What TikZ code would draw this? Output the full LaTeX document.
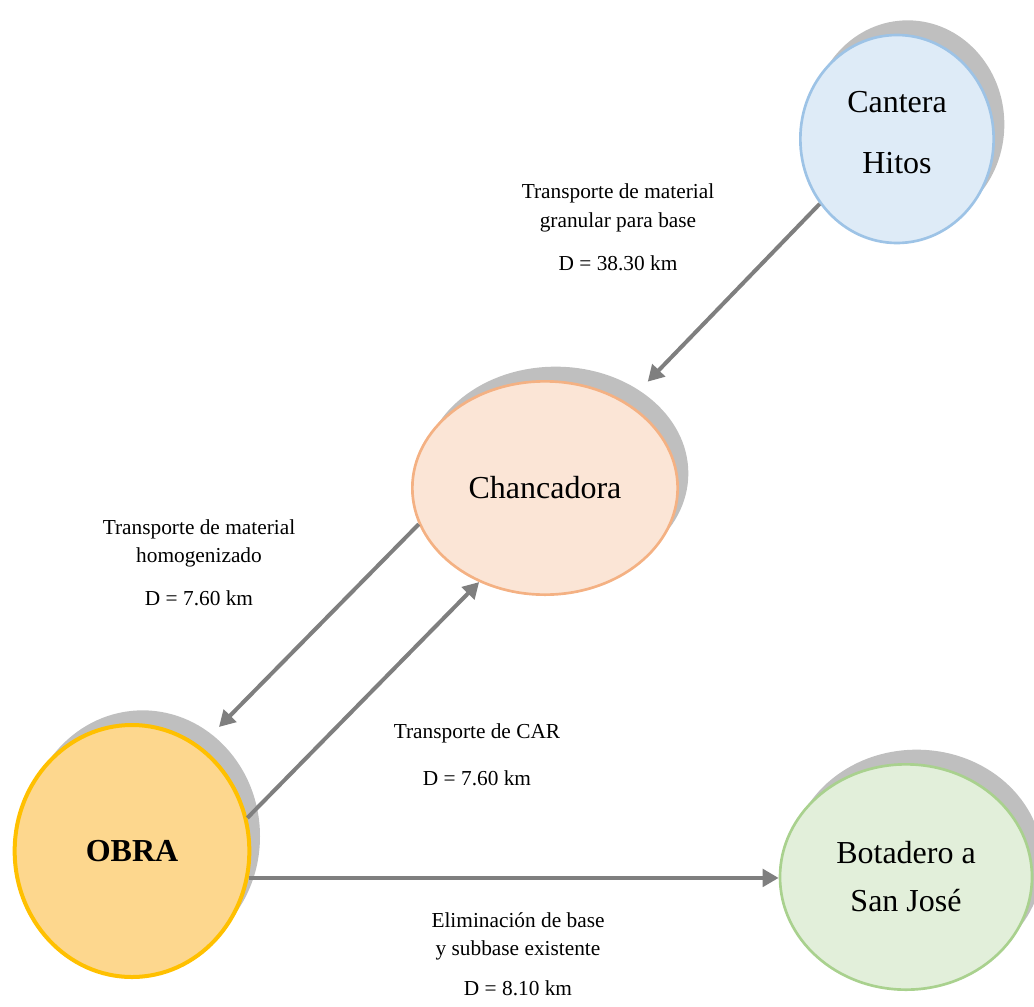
\documentclass[tikz,border=0pt]{standalone}
\usepackage{fontspec}
\setmainfont{Liberation Serif}
\usetikzlibrary{arrows.meta,shapes.geometric,shadows}
\definecolor{canfill}{RGB}{222,235,247}
\definecolor{candraw}{RGB}{157,195,230}
\definecolor{chafill}{RGB}{251,229,214}
\definecolor{chadraw}{RGB}{244,177,131}
\definecolor{obrfill}{RGB}{253,215,142}
\definecolor{obrdraw}{RGB}{255,192,0}
\definecolor{botfill}{RGB}{226,239,218}
\definecolor{botdraw}{RGB}{169,209,142}
\definecolor{shadgray}{RGB}{191,191,191}
\definecolor{routegray}{RGB}{127,127,127}

\begin{document}
\begin{tikzpicture}[x=0.75pt, y=-0.75pt]
    \tikzset{site/.style={ellipse, line width=2pt, inner sep=0pt, align=center,
      font=\fontsize{24}{29}\selectfont,
      drop shadow={shadow xshift=8pt, shadow yshift=11pt, fill=shadgray, opacity=1}}}
    \tikzset{route/.style={-{Triangle[length=12pt, width=13pt]}, draw=routegray, line width=3pt}}
    \tikzset{lbl/.style={anchor=base, inner sep=0pt, font=\fontsize{16}{20}\selectfont}}
    \useasboundingbox (0,0) rectangle (1034,1006);

    % sites
    \node[site, fill=canfill, draw=candraw, minimum width=145pt, minimum height=156pt]
      (cantera) at (897,139) {Cantera\\[17pt]Hitos\\[-19pt]};
    \node[site, fill=chafill, draw=chadraw, minimum width=199pt, minimum height=160pt]
      (chanc) at (545,488) {Chancadora};
    \node[site, fill=obrfill, draw=obrdraw, line width=3pt, minimum width=176pt, minimum height=189pt,
      font=\fontsize{24}{29}\selectfont\bfseries] (obra) at (132,851) {OBRA};
    \node[site, fill=botfill, draw=botdraw, minimum width=189pt, minimum height=169pt]
      (bota) at (906,877) {Botadero a\\[7pt]San José};

    % routes
    \draw[route, shorten >=22pt] (cantera.220) -- (chanc.46);
    \draw[route, shorten >=20pt] (chanc.196) -- (obra.57);
    \draw[route] (obra.16) -- (chanc.235);
    \draw[route] (obra.-13) -- (obra.-13 -| bota.west);

    % distances
    \node[lbl] (l1a) at (618,198) {Transporte de material};
    \node[lbl] (l1b) at (618,227) {granular para base};
    \node[lbl] (l1c) at (618,270) {D = 38.30 km};

    \node[lbl] (l2a) at (199,534) {Transporte de material};
    \node[lbl] (l2b) at (199,562) {homogenizado};
    \node[lbl] (l2c) at (199,605) {D = 7.60 km};

    \node[lbl] (l3a) at (477,738) {Transporte de CAR};
    \node[lbl] (l3b) at (477,785) {D = 7.60 km};

    \node[lbl] (l4a) at (518,927) {Eliminación de base};
    \node[lbl] (l4b) at (518,955) {y subbase existente};
    \node[lbl] (l4c) at (518,995) {D = 8.10 km};
\end{tikzpicture}
\end{document}
